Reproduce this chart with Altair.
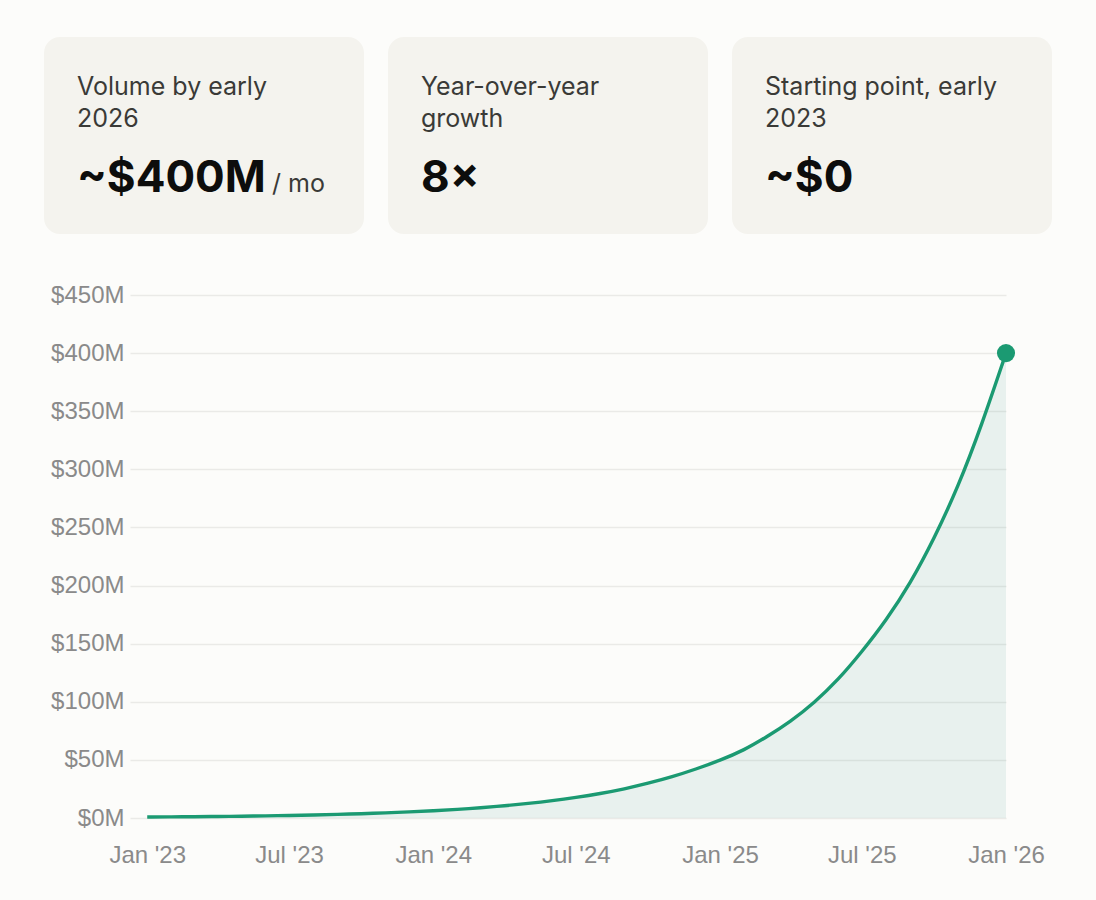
import altair as alt
import pandas as pd

# Monthly payment volume, in millions of US dollars
months = [
    "2023-01", "2023-02", "2023-03", "2023-04", "2023-05", "2023-06",
    "2023-07", "2023-08", "2023-09", "2023-10", "2023-11", "2023-12",
    "2024-01", "2024-02", "2024-03", "2024-04", "2024-05", "2024-06",
    "2024-07", "2024-08", "2024-09", "2024-10", "2024-11", "2024-12",
    "2025-01", "2025-02", "2025-03", "2025-04", "2025-05", "2025-06",
    "2025-07", "2025-08", "2025-09", "2025-10", "2025-11", "2025-12",
    "2026-01",
]
volume_musd = [
    0.8, 0.95, 1.1, 1.3, 1.55, 1.85, 2.2, 2.6, 3.1, 3.7, 4.4, 5.2,
    6.2, 7.4, 8.8, 10.5, 12.5, 14.9, 17.7, 21.0, 25.0, 29.8, 35.4, 42.0,
    49.5, 58.5, 69.5, 83.0, 99.0, 119.0, 143.0, 170.0, 202.0, 240.0, 285.0, 338.0,
    400.0,
]

# Summary cards above the chart
card_ids = ["volume", "growth", "start"]
card_labels = ["Volume by early\n2026", "Year-over-year\ngrowth", "Starting point, early\n2023"]
card_values = ["~$400M", "8×", "~$0"]
card_units = ["/ mo", "", ""]

y_ticks = [0, 50, 100, 150, 200, 250, 300, 350, 400, 450]
x_ticks = [(2023, 1), (2023, 7), (2024, 1), (2024, 7), (2025, 1), (2025, 7), (2026, 1)]

GREEN = "#1b9a72"
AREA_TINT = "#3e988c"
CARD_BG = "#F4F3EE"
PAGE_BG = "#FCFCFA"

series = pd.DataFrame({
    "month": [f"{m}-01T00:00:00" for m in months],
    "volume": volume_musd,
})
latest = series.tail(1)

cards = pd.DataFrame({
    "card": card_ids,
    "label": card_labels,
    "value": card_values,
    "unit": card_units,
})

x_enc = alt.X(
    "month:T",
    title=None,
    scale=alt.Scale(domain=[alt.DateTime(year=2022, month=12, date=10),
                            alt.DateTime(year=2026, month=1, date=1)]),
    axis=alt.Axis(
        values=[alt.DateTime(year=y, month=m, date=1) for y, m in x_ticks],
        format="%b '%y",
        grid=False,
        labelFlush=False,
        labelOverlap=False,
        labelPadding=25,
    ),
)
y_enc = alt.Y(
    "volume:Q",
    title=None,
    scale=alt.Scale(domain=[0, 450], nice=False),
    axis=alt.Axis(
        values=y_ticks,
        labelExpr="'$' + datum.value + 'M'",
        labelPadding=6,
        grid=True,
    ),
)

base = alt.Chart(series).encode(x=x_enc, y=y_enc)
area = base.mark_area(color=AREA_TINT, opacity=0.1, interpolate="basis")
line = base.mark_line(color=GREEN, strokeWidth=3.4, interpolate="basis")
dot = alt.Chart(latest).mark_circle(color=GREEN, opacity=1, size=330).encode(x=x_enc, y=y_enc)
plot_layer = alt.layer(area, line, dot)

card_scale = alt.Scale(range=[-86, 922], paddingInner=0.0698, paddingOuter=0)
card_x = alt.X("card:N", sort=card_ids, scale=card_scale, axis=None)
card_x_left = alt.X("card:N", sort=card_ids, scale=card_scale, axis=None, bandPosition=0)

card_box = alt.Chart(cards).mark_rect(color=CARD_BG, cornerRadius=16).encode(
    x=card_x, y=alt.value(-258), y2=alt.value(-61)
)
card_title = alt.Chart(cards).mark_text(
    align="left", baseline="alphabetic", dx=33, font="Inter", fontSize=25,
    color="#3a3a37", lineBreak="\n", lineHeight=32,
).encode(x=card_x_left, y=alt.value(-200), text="label:N")
card_value = alt.Chart(cards).mark_text(
    align="left", baseline="alphabetic", dx=33, font="Inter", fontSize=44,
    fontWeight="bold", color="#0d0d0c",
).encode(x=card_x_left, y=alt.value(-103), text="value:N")
card_unit = alt.Chart(cards).mark_text(
    align="left", baseline="alphabetic", dx=228, font="Inter", fontSize=25,
    color="#3a3a37",
).encode(x=card_x_left, y=alt.value(-103), text="unit:N")

card_layer = alt.layer(card_box, card_title, card_value, card_unit)

chart = (
    alt.layer(plot_layer, card_layer)
    .resolve_scale(x="independent")
    .properties(
        width=876,
        height=523,
        autosize=alt.AutoSizeParams(type="none"),
        padding={"left": 130, "top": 295, "right": 90, "bottom": 82},
        background=PAGE_BG,
    )
    .configure_view(stroke=None)
    .configure_axis(
        domain=False,
        ticks=False,
        gridColor="#EAEAE7",
        gridWidth=1.5,
        labelColor="#8a8a8a",
        labelFont="Liberation Sans",
        labelFontSize=24,
    )
)

chart.save("out.html", embed_options={"renderer": "svg", "actions": False})
